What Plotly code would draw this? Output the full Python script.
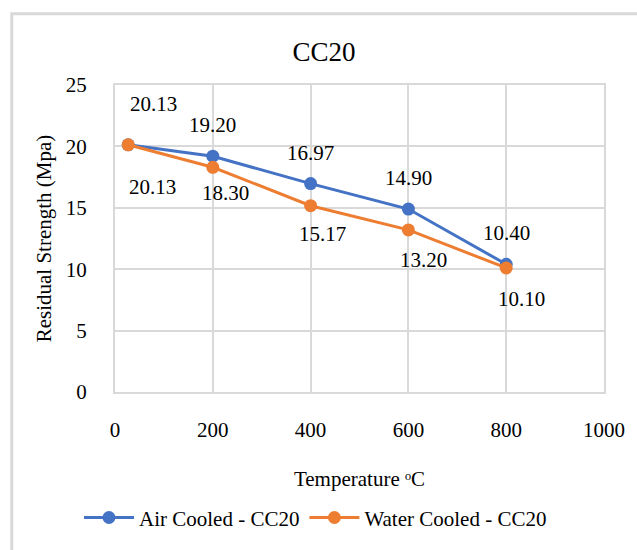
import plotly.graph_objects as go

# ---- data ----
temperature = [27, 200, 400, 600, 800]
air_cooled = [20.13, 19.20, 16.97, 14.90, 10.40]
water_cooled = [20.13, 18.30, 15.17, 13.20, 10.10]
series_names = ["Air Cooled - CC20", "Water Cooled - CC20"]
x_ticks = [0, 200, 400, 600, 800, 1000]
y_ticks = [0, 5, 10, 15, 20, 25]

# ---- style ----
FONT = "serif"
BLUE = "#4472C4"
ORANGE = "#ED7D31"
GRID = "#D9D9D9"
air_label_shift = [(25, 41), (0, 31), (0, 31), (0, 31), (0, 31)]
water_label_shift = [(24, -42), (13, -26), (12, -28), (15, -30), (15, -31)]


def f(size=21):
    return dict(family=FONT, size=size, color="black")


fig = go.Figure()
fig.add_trace(go.Scatter(x=temperature, y=air_cooled, name=series_names[0],
                         mode="lines+markers",
                         line=dict(color=BLUE, width=3),
                         marker=dict(color=BLUE, size=13)))
fig.add_trace(go.Scatter(x=temperature, y=water_cooled, name=series_names[1],
                         mode="lines+markers",
                         line=dict(color=ORANGE, width=3),
                         marker=dict(color=ORANGE, size=13)))

annotations = []
for xv, yv, (dx, dy) in zip(temperature, air_cooled, air_label_shift):
    annotations.append(dict(x=xv, y=yv, xref="x", yref="y", text=f"{yv:.2f}",
                            showarrow=False, xshift=dx, yshift=dy, font=f()))
for xv, yv, (dx, dy) in zip(temperature, water_cooled, water_label_shift):
    annotations.append(dict(x=xv, y=yv, xref="x", yref="y", text=f"{yv:.2f}",
                            showarrow=False, xshift=dx, yshift=dy, font=f()))

fig.update_layout(
    width=637, height=550,
    margin=dict(l=115, r=27, t=85, b=155),
    paper_bgcolor="white", plot_bgcolor="white",
    font=f(),
    title=dict(text="CC20", x=324/637, xref="container", xanchor="center",
               y=1-52/550, yref="container", yanchor="middle", font=f(27)),
    xaxis=dict(range=[0, 1000], tickvals=x_ticks, showgrid=True, gridcolor=GRID,
               gridwidth=2, showline=True, linecolor=GRID, linewidth=2, mirror=True,
               zeroline=False, ticks="", ticklabelstandoff=18, tickfont=f(),
               title=dict(text="Temperature \u1d52C", standoff=30, font=f())),
    yaxis=dict(range=[0, 25], tickvals=y_ticks, showgrid=True, gridcolor=GRID,
               gridwidth=2, showline=True, linecolor=GRID, linewidth=2, mirror=True,
               zeroline=False, ticks="", ticklabelstandoff=22, tickfont=f(),
               title=dict(text="Residual Strength (Mpa)", standoff=8, font=f())),
    legend=dict(orientation="h", x=0.41, xanchor="center", y=-0.41, yanchor="middle",
                font=f(), itemwidth=50, tracegroupgap=0),
    showlegend=True,
    annotations=annotations,
    shapes=[dict(type="rect", xref="paper", yref="paper",
                 x0=(10.5-115)/495, x1=(660-115)/495,
                 y0=-0.7, y1=(395-13)/310,
                 line=dict(color=GRID, width=3), fillcolor="rgba(0,0,0,0)",
                 layer="below")],
)

fig.write_html("out.html")
